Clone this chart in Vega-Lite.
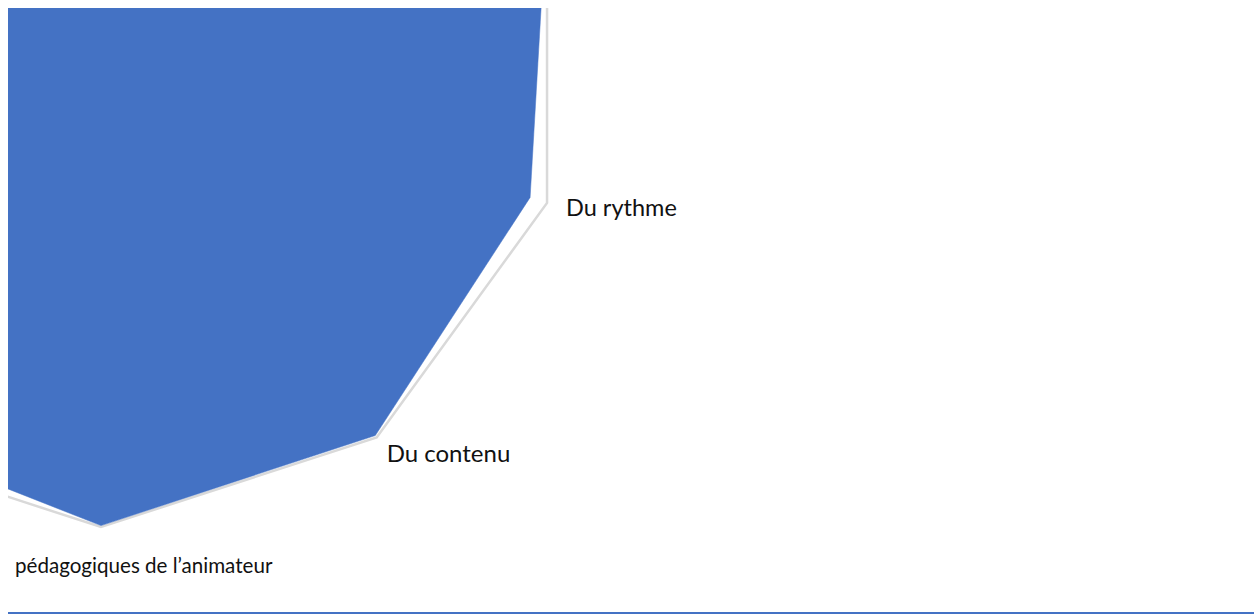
{
  "$schema": "https://vega.github.io/schema/vega-lite/v6.json",
  "width": 1246,
  "height": 607,
  "autosize": "none",
  "padding": {"left": 8, "top": 8, "right": 0, "bottom": 0},
  "background": "white",
  "config": {"view": {"stroke": null}},
  "data": {
    "values": [
      {"critere": "Critère 1", "idx": 0, "valeur": 92},
      {"critere": "Critère 2", "idx": 1, "valeur": 94},
      {"critere": "Critère 3", "idx": 2, "valeur": 99.9},
      {"critere": "Du rythme", "idx": 3, "valeur": 96.2},
      {"critere": "Du contenu", "idx": 4, "valeur": 99.5},
      {"critere": "pédagogiques de l’animateur", "idx": 5, "valeur": 99.7},
      {"critere": "Critère 7", "idx": 6, "valeur": 95.8},
      {"critere": "Critère 8", "idx": 7, "valeur": 93},
      {"critere": "Critère 9", "idx": 8, "valeur": 92},
      {"critere": "Critère 10", "idx": 9, "valeur": 91}
    ]
  },
  "transform": [
    {"calculate": "datum.idx * 2 * PI / 10", "as": "angle"}
  ],
  "layer": [
    {
      "transform": [
        {"calculate": "sin(datum.angle)", "as": "px"},
        {"calculate": "cos(datum.angle)", "as": "py"}
      ],
      "mark": {"type": "line", "interpolate": "linear-closed", "stroke": "#d9d9d9", "strokeWidth": 2.5, "clip": true},
      "encoding": {
        "x": {"field": "px", "type": "quantitative", "scale": {"domain": [-0.19829, 2.45842], "nice": false, "zero": false}, "axis": null},
        "y": {"field": "py", "type": "quantitative", "scale": {"domain": [-1.18763, 0.10661], "nice": false, "zero": false}, "axis": null},
        "order": {"field": "idx", "type": "quantitative"}
      }
    },
    {
      "transform": [
        {"calculate": "datum.valeur / 100 * sin(datum.angle)", "as": "px"},
        {"calculate": "datum.valeur / 100 * cos(datum.angle)", "as": "py"}
      ],
      "mark": {"type": "line", "interpolate": "linear-closed", "fill": "#4472c4", "stroke": "#4472c4", "strokeWidth": 0.5, "clip": true},
      "encoding": {
        "x": {"field": "px", "type": "quantitative"},
        "y": {"field": "py", "type": "quantitative"},
        "order": {"field": "idx", "type": "quantitative"}
      }
    },
    {
      "transform": [
        {"filter": "datum.critere === 'Du rythme'"},
        {"calculate": "sin(datum.angle)", "as": "px"},
        {"calculate": "cos(datum.angle)", "as": "py"}
      ],
      "mark": {"type": "text", "align": "left", "baseline": "alphabetic", "dx": 19, "dy": 13, "font": "Lato", "fontSize": 23.5, "color": "#111111", "clip": true},
      "encoding": {
        "x": {"field": "px", "type": "quantitative"},
        "y": {"field": "py", "type": "quantitative"},
        "text": {"field": "critere"}
      }
    },
    {
      "transform": [
        {"filter": "datum.critere === 'Du contenu'"},
        {"calculate": "sin(datum.angle)", "as": "px"},
        {"calculate": "cos(datum.angle)", "as": "py"}
      ],
      "mark": {"type": "text", "align": "left", "baseline": "alphabetic", "dx": 10, "dy": 25, "font": "Lato", "fontSize": 24, "color": "#111111", "clip": true},
      "encoding": {
        "x": {"field": "px", "type": "quantitative"},
        "y": {"field": "py", "type": "quantitative"},
        "text": {"field": "critere"}
      }
    },
    {
      "transform": [
        {"filter": "datum.idx === 5"},
        {"calculate": "sin(datum.angle)", "as": "px"},
        {"calculate": "cos(datum.angle)", "as": "py"}
      ],
      "mark": {"type": "text", "align": "left", "baseline": "alphabetic", "dx": -86, "dy": 46, "font": "Lato", "fontSize": 20.6, "color": "#111111", "clip": true},
      "encoding": {
        "x": {"field": "px", "type": "quantitative"},
        "y": {"field": "py", "type": "quantitative"},
        "text": {"field": "critere"}
      }
    },
    {
      "mark": {"type": "rule", "stroke": "#4472c4", "strokeWidth": 2},
      "encoding": {"y": {"datum": -1.1834, "type": "quantitative"}}
    }
  ]
}
